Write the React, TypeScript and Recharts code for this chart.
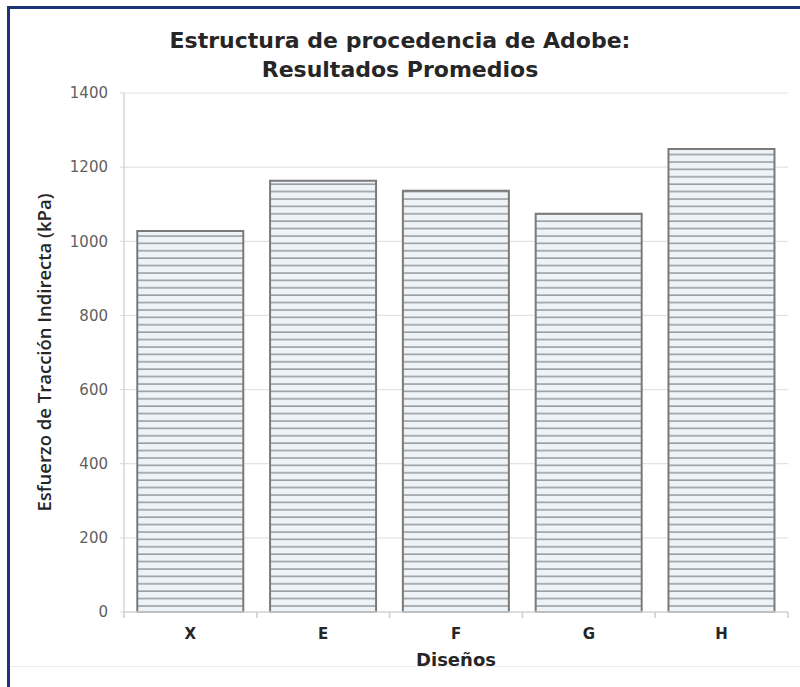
import React from "react";
import { BarChart, Bar, XAxis, YAxis, CartesianGrid, Label } from "recharts";

const disenos = ["X", "E", "F", "G", "H"];
const esfuerzo = [1028, 1163, 1136, 1074, 1249];
const yTicks = [0, 200, 400, 600, 800, 1000, 1200, 1400];

const data = disenos.map((d, i) => ({ name: d, value: esfuerzo[i] }));

const W = 800;
const H = 687;
const LEFT = 124;
const RIGHT = 12;
const BAND = (W - LEFT - RIGHT) / disenos.length;
const WIDE = "'DejaVu Sans', sans-serif";

function XTick(props: any) {
  const { x, y, payload, index } = props;
  const last = index === disenos.length - 1;
  return (
    <g>
      <line x1={x - BAND / 2} x2={x - BAND / 2} y1={y - 8} y2={y - 2} stroke="#cfcfcf" strokeWidth={1.5} />
      {last && (
        <line x1={x + BAND / 2} x2={x + BAND / 2} y1={y - 8} y2={y - 2} stroke="#cfcfcf" strokeWidth={1.5} />
      )}
      <text x={x} y={y + 19} textAnchor="middle" fill="#262626" fontSize={15} fontWeight={700} fontFamily={WIDE}>
        {payload.value}
      </text>
    </g>
  );
}

export default function App() {
  return (
    <div style={{ position: "fixed", left: 0, top: 0, width: W, height: H, background: "#fff", overflow: "hidden", fontFamily: "'Open Sans', sans-serif" }}>
      <div style={{ position: "absolute", left: 7, top: 6, width: W, height: H, borderLeft: "3px solid #1c3578", borderTop: "3px solid #1c3578" }} />
      <div style={{ position: "absolute", left: 10, top: 666, width: W, height: 1, background: "#ececec" }} />
      <div style={{ position: "absolute", left: 0, top: 26, width: W, textAlign: "center", fontSize: 22, fontWeight: 700, fontFamily: WIDE, color: "#262626", lineHeight: "29px" }}>
        Estructura de procedencia de Adobe:
        <br />
        Resultados Promedios
      </div>
      <div style={{ position: "absolute", left: 0, top: 0 }}>
        <BarChart width={W} height={H} data={data} margin={{ top: 93, right: RIGHT, bottom: 0, left: 0 }} barCategoryGap="10%">
          <defs>
            <pattern id="hatch" patternUnits="userSpaceOnUse" width="10" height="7.4">
              <rect x="0" y="0" width="10" height="7.4" fill="#eef3f8" />
              <line x1="0" x2="10" y1="6.6" y2="6.6" stroke="#8f9296" strokeWidth={1.4} />
            </pattern>
          </defs>
          <CartesianGrid vertical={false} stroke="#e3e3e3" strokeWidth={1.2} />
          <XAxis
            dataKey="name"
            height={75}
            axisLine={{ stroke: "#d6d6d6", strokeWidth: 1.5 }}
            tickLine={false}
            tick={<XTick />}
            interval={0}
          >
            <Label value="Diseños" position="insideBottom" offset={21} fill="#262626" fontSize={18} fontWeight={700} fontFamily={WIDE} />
          </XAxis>
          <YAxis
            width={LEFT}
            domain={[0, 1400]}
            ticks={yTicks}
            interval={0}
            axisLine={{ stroke: "#d6d6d6", strokeWidth: 1.5 }}
            tickLine={{ stroke: "#d6d6d6" }}
            tickSize={4}
            tickMargin={12}
            tick={{ fill: "#5f5f5f", fontSize: 15, fontFamily: WIDE }}
          >
            <Label
              value="Esfuerzo de Tracción Indirecta (kPa)"
              angle={-90}
              position="insideLeft"
              offset={0}
              dx={44}
              fill="#262626"
              fontSize={18.5}
              fontWeight={600}
              style={{ textAnchor: "middle" }}
            />
          </YAxis>
          <Bar dataKey="value" fill="url(#hatch)" stroke="#7a7a7a" strokeWidth={2} isAnimationActive={false} />
        </BarChart>
      </div>
    </div>
  );
}
